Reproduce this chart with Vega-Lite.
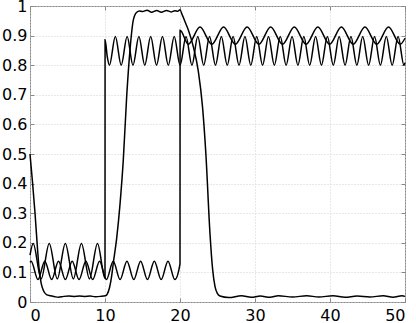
{
  "$schema": "https://vega.github.io/schema/vega-lite/v6.json",
  "width": 375,
  "height": 296,
  "autosize": {"type": "none"},
  "padding": {"left": 30, "top": 6, "right": 11, "bottom": 21},
  "background": "white",
  "config": {
    "view": {"stroke": "#888888", "strokeWidth": 1},
    "axis": {
      "domain": false,
      "labelFont": "DejaVu Sans",
      "labelFontSize": 16,
      "labelColor": "#000000",
      "tickColor": "#888888",
      "tickWidth": 1,
      "gridColor": "#d0d0d0",
      "gridDash": [1, 2],
      "gridWidth": 1,
      "title": null
    }
  },
  "data": {
    "values": [
      {"s": "A", "x": 0, "y": 0.5}, {"s": "A", "x": 0.35, "y": 0.4}, {"s": "A", "x": 0.67, "y": 0.3}, {"s": "A", "x": 1.0, "y": 0.18},
      {"s": "A", "x": 1.24, "y": 0.105}, {"s": "A", "x": 1.5, "y": 0.062}, {"s": "A", "x": 1.8, "y": 0.038}, {"s": "A", "x": 2.2, "y": 0.025},
      {"s": "A", "x": 2.7, "y": 0.021}, {"s": "A", "x": 3.3, "y": 0.018}, {"s": "A", "x": 3.8, "y": 0.016}, {"s": "A", "x": 4.5, "y": 0.019},
      {"s": "A", "x": 5.2, "y": 0.02}, {"s": "A", "x": 5.9, "y": 0.019}, {"s": "A", "x": 6.6, "y": 0.02}, {"s": "A", "x": 7.3, "y": 0.019},
      {"s": "A", "x": 8.0, "y": 0.02}, {"s": "A", "x": 8.7, "y": 0.018}, {"s": "A", "x": 9.4, "y": 0.019}, {"s": "A", "x": 10.05, "y": 0.021},
      {"s": "A", "x": 10.3, "y": 0.027}, {"s": "A", "x": 10.6, "y": 0.048}, {"s": "A", "x": 10.9, "y": 0.09}, {"s": "A", "x": 11.1, "y": 0.13},
      {"s": "A", "x": 11.56, "y": 0.216}, {"s": "A", "x": 12.0, "y": 0.33}, {"s": "A", "x": 12.44, "y": 0.48}, {"s": "A", "x": 12.89, "y": 0.694},
      {"s": "A", "x": 13.33, "y": 0.851}, {"s": "A", "x": 13.78, "y": 0.953}, {"s": "A", "x": 14.2, "y": 0.978}, {"s": "A", "x": 14.6, "y": 0.983},
      {"s": "A", "x": 15.0, "y": 0.981}, {"s": "A", "x": 15.6, "y": 0.986}, {"s": "A", "x": 16.2, "y": 0.979}, {"s": "A", "x": 16.9, "y": 0.985},
      {"s": "A", "x": 17.5, "y": 0.979}, {"s": "A", "x": 18.2, "y": 0.985}, {"s": "A", "x": 18.8, "y": 0.98}, {"s": "A", "x": 19.3, "y": 0.984},
      {"s": "A", "x": 19.7, "y": 0.982}, {"s": "A", "x": 20.0, "y": 0.987}, {"s": "A", "x": 20.3, "y": 0.97}, {"s": "A", "x": 20.7, "y": 0.945},
      {"s": "A", "x": 21.1, "y": 0.92}, {"s": "A", "x": 21.8, "y": 0.86}, {"s": "A", "x": 22.44, "y": 0.78}, {"s": "A", "x": 23.0, "y": 0.66},
      {"s": "A", "x": 23.45, "y": 0.5}, {"s": "A", "x": 24.0, "y": 0.23}, {"s": "A", "x": 24.35, "y": 0.11}, {"s": "A", "x": 24.67, "y": 0.052},
      {"s": "A", "x": 25.0, "y": 0.028}, {"s": "A", "x": 25.33, "y": 0.02}, {"s": "A", "x": 26.5, "y": 0.015}, {"s": "A", "x": 28.2, "y": 0.021},
      {"s": "A", "x": 29.5, "y": 0.016}, {"s": "A", "x": 30.7, "y": 0.02}, {"s": "A", "x": 32.0, "y": 0.016}, {"s": "A", "x": 33.1, "y": 0.021},
      {"s": "A", "x": 35.0, "y": 0.017}, {"s": "A", "x": 36.9, "y": 0.021}, {"s": "A", "x": 38.5, "y": 0.017}, {"s": "A", "x": 40.4, "y": 0.021},
      {"s": "A", "x": 42.0, "y": 0.016}, {"s": "A", "x": 43.6, "y": 0.02}, {"s": "A", "x": 45.3, "y": 0.017}, {"s": "A", "x": 47.1, "y": 0.021},
      {"s": "A", "x": 48.4, "y": 0.016}, {"s": "A", "x": 49.6, "y": 0.021}, {"s": "A", "x": 50, "y": 0.019},

      {"s": "B", "x": 0, "y": 0.158}, {"s": "B", "x": 0.42, "y": 0.198}, {"s": "B", "x": 1.49, "y": 0.078}, {"s": "B", "x": 2.565, "y": 0.198},
      {"s": "B", "x": 3.64, "y": 0.078}, {"s": "B", "x": 4.71, "y": 0.198}, {"s": "B", "x": 5.78, "y": 0.078}, {"s": "B", "x": 6.855, "y": 0.198},
      {"s": "B", "x": 7.93, "y": 0.078}, {"s": "B", "x": 9.0, "y": 0.198}, {"s": "B", "x": 10.0, "y": 0.08}, {"s": "B", "x": 10.01, "y": 0.886},
      {"s": "B", "x": 10.3, "y": 0.829}, {"s": "B", "x": 10.59, "y": 0.8}, {"s": "B", "x": 11.38, "y": 0.897}, {"s": "B", "x": 12.16, "y": 0.8},
      {"s": "B", "x": 12.95, "y": 0.897}, {"s": "B", "x": 13.73, "y": 0.8}, {"s": "B", "x": 14.52, "y": 0.897}, {"s": "B", "x": 15.3, "y": 0.8},
      {"s": "B", "x": 16.09, "y": 0.897}, {"s": "B", "x": 16.87, "y": 0.8}, {"s": "B", "x": 17.66, "y": 0.897}, {"s": "B", "x": 18.44, "y": 0.8},
      {"s": "B", "x": 19.23, "y": 0.897}, {"s": "B", "x": 20.01, "y": 0.8}, {"s": "B", "x": 20.8, "y": 0.897}, {"s": "B", "x": 21.59, "y": 0.8},
      {"s": "B", "x": 22.37, "y": 0.897}, {"s": "B", "x": 23.16, "y": 0.8}, {"s": "B", "x": 23.94, "y": 0.897}, {"s": "B", "x": 24.73, "y": 0.8},
      {"s": "B", "x": 25.51, "y": 0.897}, {"s": "B", "x": 26.3, "y": 0.8}, {"s": "B", "x": 27.08, "y": 0.897}, {"s": "B", "x": 27.87, "y": 0.8},
      {"s": "B", "x": 28.66, "y": 0.897}, {"s": "B", "x": 29.44, "y": 0.8}, {"s": "B", "x": 30.23, "y": 0.897}, {"s": "B", "x": 31.01, "y": 0.8},
      {"s": "B", "x": 31.8, "y": 0.897}, {"s": "B", "x": 32.58, "y": 0.8}, {"s": "B", "x": 33.37, "y": 0.897}, {"s": "B", "x": 34.15, "y": 0.8},
      {"s": "B", "x": 34.94, "y": 0.897}, {"s": "B", "x": 35.72, "y": 0.8}, {"s": "B", "x": 36.51, "y": 0.897}, {"s": "B", "x": 37.29, "y": 0.8},
      {"s": "B", "x": 38.08, "y": 0.897}, {"s": "B", "x": 38.86, "y": 0.8}, {"s": "B", "x": 39.65, "y": 0.897}, {"s": "B", "x": 40.44, "y": 0.8},
      {"s": "B", "x": 41.22, "y": 0.897}, {"s": "B", "x": 42.01, "y": 0.8}, {"s": "B", "x": 42.79, "y": 0.897}, {"s": "B", "x": 43.58, "y": 0.8},
      {"s": "B", "x": 44.36, "y": 0.897}, {"s": "B", "x": 45.15, "y": 0.8}, {"s": "B", "x": 45.94, "y": 0.897}, {"s": "B", "x": 46.72, "y": 0.8},
      {"s": "B", "x": 47.51, "y": 0.897}, {"s": "B", "x": 48.29, "y": 0.8}, {"s": "B", "x": 49.08, "y": 0.897}, {"s": "B", "x": 49.86, "y": 0.8},
      {"s": "B", "x": 50, "y": 0.808},

      {"s": "C", "x": 0, "y": 0.134}, {"s": "C", "x": 0.15, "y": 0.138}, {"s": "C", "x": 1.06, "y": 0.076}, {"s": "C", "x": 1.975, "y": 0.138},
      {"s": "C", "x": 2.89, "y": 0.076}, {"s": "C", "x": 3.8, "y": 0.138}, {"s": "C", "x": 4.71, "y": 0.076}, {"s": "C", "x": 5.625, "y": 0.138},
      {"s": "C", "x": 6.54, "y": 0.076}, {"s": "C", "x": 7.45, "y": 0.138}, {"s": "C", "x": 8.36, "y": 0.076}, {"s": "C", "x": 9.275, "y": 0.138},
      {"s": "C", "x": 10.19, "y": 0.076}, {"s": "C", "x": 11.1, "y": 0.138}, {"s": "C", "x": 12.01, "y": 0.076}, {"s": "C", "x": 12.925, "y": 0.138},
      {"s": "C", "x": 13.84, "y": 0.076}, {"s": "C", "x": 14.75, "y": 0.138}, {"s": "C", "x": 15.66, "y": 0.076}, {"s": "C", "x": 16.575, "y": 0.138},
      {"s": "C", "x": 17.49, "y": 0.076}, {"s": "C", "x": 18.4, "y": 0.138}, {"s": "C", "x": 19.31, "y": 0.076}, {"s": "C", "x": 20.0, "y": 0.129},
      {"s": "C", "x": 20.01, "y": 0.918}, {"s": "C", "x": 21.1, "y": 0.871}, {"s": "C", "x": 22.67, "y": 0.929}, {"s": "C", "x": 24.24, "y": 0.871},
      {"s": "C", "x": 25.81, "y": 0.929}, {"s": "C", "x": 27.38, "y": 0.871}, {"s": "C", "x": 28.95, "y": 0.929}, {"s": "C", "x": 30.52, "y": 0.871},
      {"s": "C", "x": 32.09, "y": 0.929}, {"s": "C", "x": 33.67, "y": 0.871}, {"s": "C", "x": 35.24, "y": 0.929}, {"s": "C", "x": 36.81, "y": 0.871},
      {"s": "C", "x": 38.38, "y": 0.929}, {"s": "C", "x": 39.95, "y": 0.871}, {"s": "C", "x": 41.52, "y": 0.929}, {"s": "C", "x": 43.09, "y": 0.871},
      {"s": "C", "x": 44.66, "y": 0.929}, {"s": "C", "x": 46.23, "y": 0.871}, {"s": "C", "x": 47.8, "y": 0.929}, {"s": "C", "x": 49.37, "y": 0.871},
      {"s": "C", "x": 50, "y": 0.891}
    ]
  },
  "layer": [
    {
      "mark": {"type": "line", "interpolate": "monotone", "color": "#000000", "strokeWidth": 1.5},
      "encoding": {
        "x": {"field": "x", "type": "quantitative", "scale": {"domain": [0, 50], "nice": false, "zero": false},
              "axis": {"orient": "bottom", "values": [0, 10, 20, 30, 40, 50], "grid": true, "tickSize": -4, "labelPadding": 9}},
        "y": {"field": "y", "type": "quantitative", "scale": {"domain": [0, 1], "nice": false},
              "axis": {"orient": "left", "values": [0, 0.1, 0.2, 0.3, 0.4, 0.5, 0.6, 0.7, 0.8, 0.9, 1], "format": "~g", "grid": true, "tickSize": -4, "labelPadding": 7}},
        "detail": {"field": "s"}
      }
    },
    {
      "mark": {"type": "line", "opacity": 0},
      "encoding": {
        "x": {"field": "x", "type": "quantitative",
              "axis": {"orient": "top", "values": [0, 10, 20, 30, 40, 50], "grid": false, "labels": false, "tickSize": -4}},
        "y": {"field": "y", "type": "quantitative",
              "axis": {"orient": "right", "values": [0, 0.1, 0.2, 0.3, 0.4, 0.5, 0.6, 0.7, 0.8, 0.9, 1], "grid": false, "labels": false, "tickSize": -4}},
        "detail": {"field": "s"}
      }
    }
  ],
  "resolve": {"axis": {"x": "independent", "y": "independent"}}
}
